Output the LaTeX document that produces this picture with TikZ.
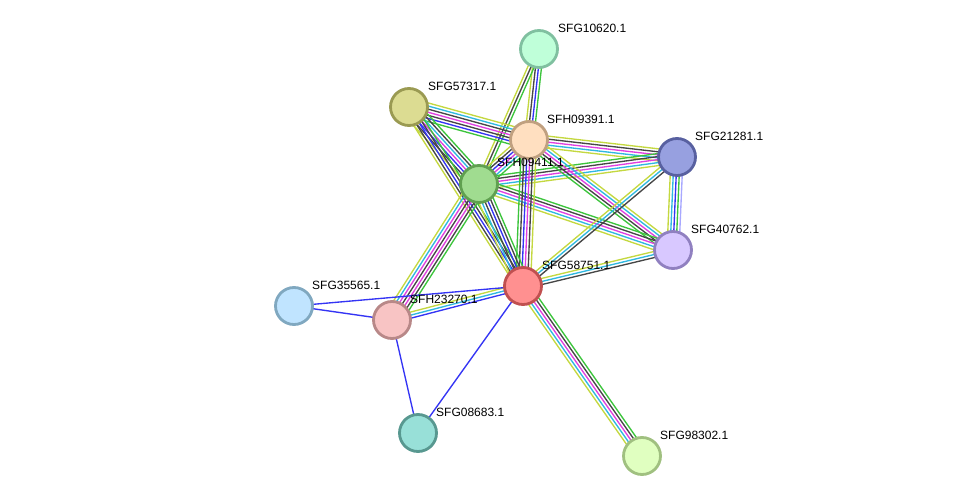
\documentclass[tikz,border=0pt]{standalone}
\usepackage{fontspec}
\setmainfont{Liberation Sans}
\usetikzlibrary{calc,backgrounds}
\definecolor{cnb}{HTML}{3CC43C}
\definecolor{ccooc}{HTML}{3434F4}
\definecolor{cco}{HTML}{464646}
\definecolor{cexp}{HTML}{E040E0}
\definecolor{cdb}{HTML}{30B8E0}
\definecolor{ctm}{HTML}{C4D840}
\definecolor{chom}{HTML}{A8A8FF}
\tikzset{
  prot/.style={circle, minimum size=37pt, inner sep=0pt, line width=2.8pt},
  lbl/.style={anchor=west, font=\fontsize{12}{14}\selectfont, inner sep=0pt, text=black},
  edgeline/.style={line width=1.35pt},
}
\newcommand\medge[3]{%
  \foreach \c [count=\n] in {#3} {\xdef\medgeN{\n}}%
  \foreach \c [count=\i] in {#3} {%
    \pgfmathsetmacro\off{(\i-(\medgeN+1)/2)*3.0}%
    \draw[\c, edgeline] ($(#1.center)!\off pt!90:(#2.center)$) -- ($(#2.center)!\off pt!-90:(#1.center)$);
  }%
}
\begin{document}
\begin{tikzpicture}[x=1pt,y=-1pt]
\useasboundingbox (0,0) rectangle (975,502);
% nodes
\node[prot, fill={rgb,255:red,191;green,255;blue,217}, draw={rgb,255:red,128;green,192;blue,160}] (n10620) at (539,49) {};
\node[prot, fill={rgb,255:red,220;green,220;blue,146}, draw={rgb,255:red,154;green,154;blue,82}] (n57317) at (409,107) {};
\node[prot, fill={rgb,255:red,255;green,223;blue,192}, draw={rgb,255:red,192;green,160;blue,128}] (n09391) at (529,140) {};
\node[prot, fill={rgb,255:red,151;green,160;blue,224}, draw={rgb,255:red,88;green,96;blue,160}] (n21281) at (677,157) {};
\node[prot, fill={rgb,255:red,160;green,220;blue,144}, draw={rgb,255:red,96;green,160;blue,80}] (n09411) at (479,184) {};
\node[prot, fill={rgb,255:red,216;green,200;blue,255}, draw={rgb,255:red,144;green,128;blue,192}] (n40762) at (673,250) {};
\node[prot, fill={rgb,255:red,255;green,144;blue,144}, draw={rgb,255:red,192;green,80;blue,80}] (n58751) at (523,286) {};
\node[prot, fill={rgb,255:red,192;green,228;blue,255}, draw={rgb,255:red,128;green,168;blue,192}] (n35565) at (294,306) {};
\node[prot, fill={rgb,255:red,248;green,196;blue,196}, draw={rgb,255:red,184;green,136;blue,136}] (n23270) at (392,320) {};
\node[prot, fill={rgb,255:red,152;green,224;blue,216}, draw={rgb,255:red,88;green,152;blue,144}] (n08683) at (418,433) {};
\node[prot, fill={rgb,255:red,224;green,255;blue,192}, draw={rgb,255:red,160;green,192;blue,128}] (n98302) at (642,456) {};
% edges
\begin{pgfonlayer}{background}
\medge{n10620}{n09391}{ctm,cco,ccooc,cnb}
\medge{n10620}{n09411}{ctm,cco,cnb}
\medge{n57317}{n09391}{cnb,ccooc,cco,cexp,cco,cdb,ctm}
\medge{n57317}{n09411}{ctm,cco,ccooc,cexp,cdb,cco,cnb}
\medge{n57317}{n58751}{ctm,cco,ccooc,cco,cnb}
\medge{n09391}{n09411}{ctm,cco,ccooc,cexp,cdb,cnb}
\medge{n09391}{n21281}{ctm,cdb,cexp,cco,ctm}
\medge{n09411}{n21281}{ctm,cdb,cexp,cco,cnb}
\medge{n09391}{n40762}{cnb,cco,cexp,cdb,ctm}
\medge{n09411}{n40762}{ctm,cdb,cexp,cco,cnb}
\medge{n09391}{n58751}{cnb,cco,ccooc,cexp,cco,ctm}
\medge{n09411}{n58751}{ctm,cdb,cco,ccooc,cco,cnb}
\medge{n09411}{n23270}{ctm,cdb,cexp,cco,cexp,cco,cnb}
\medge{n21281}{n40762}{ctm,cdb,ccooc,cnb,chom}
\medge{n21281}{n58751}{ctm,cdb,cco}
\medge{n40762}{n58751}{ctm,cdb,cco}
\medge{n58751}{n98302}{ctm,cdb,cexp,cco,cnb}
\medge{n58751}{n23270}{ctm,cdb,ccooc}
\medge{n35565}{n58751}{ccooc}
\medge{n35565}{n23270}{ccooc}
\medge{n23270}{n08683}{ccooc}
\medge{n58751}{n08683}{ccooc}
\end{pgfonlayer}
% labels
\node[lbl] (l10620) at ([shift={(19,-21)}]n10620.center) {SFG10620.1};
\node[lbl] (l57317) at ([shift={(19,-21)}]n57317.center) {SFG57317.1};
\node[lbl] (l09391) at ([shift={(18,-21)}]n09391.center) {SFH09391.1};
\node[lbl] (l21281) at ([shift={(18,-21)}]n21281.center) {SFG21281.1};
\node[lbl] (l09411) at ([shift={(18,-22)}]n09411.center) {SFH09411.1};
\node[lbl] (l40762) at ([shift={(18,-21)}]n40762.center) {SFG40762.1};
\node[lbl] (l58751) at ([shift={(19,-21)}]n58751.center) {SFG58751.1};
\node[lbl] (l35565) at ([shift={(18,-21)}]n35565.center) {SFG35565.1};
\node[lbl] (l23270) at ([shift={(18,-21)}]n23270.center) {SFH23270.1};
\node[lbl] (l08683) at ([shift={(18,-21)}]n08683.center) {SFG08683.1};
\node[lbl] (l98302) at ([shift={(18,-21)}]n98302.center) {SFG98302.1};
\end{tikzpicture}
\end{document}
